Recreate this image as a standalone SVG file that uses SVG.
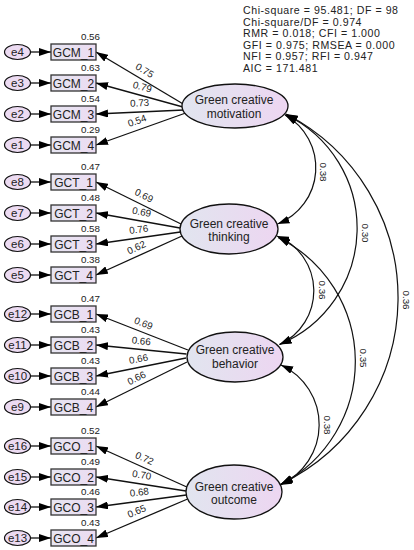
<svg xmlns="http://www.w3.org/2000/svg" width="414" height="550" viewBox="0 0 414 550">
<defs>
<linearGradient id="gl" x1="0" y1="0" x2="1" y2="0">
<stop offset="0" stop-color="#e1e5ef"/>
<stop offset="1" stop-color="#edd6f1"/>
</linearGradient>
<linearGradient id="gb" x1="0" y1="0" x2="1" y2="0">
<stop offset="0" stop-color="#e6e5f1"/>
<stop offset="1" stop-color="#ecdcf2"/>
</linearGradient>
<marker id="ar" viewBox="0 0 12 8" refX="12" refY="4" markerWidth="12" markerHeight="8" markerUnits="userSpaceOnUse" orient="auto-start-reverse">
<path d="M0,0 L12,4 L0,8 z" fill="#000"/>
</marker>
</defs>
<style>
text{font-family:"Liberation Sans",Arial,sans-serif;fill:#222}
.box{fill:url(#gb);stroke:#333;stroke-width:1.3}
.lat{fill:url(#gl);stroke:#111;stroke-width:1.3}
.err{fill:#ecdbf2;stroke:#111;stroke-width:1.2}
.bt{font-size:12px;text-anchor:middle}
.lt{font-size:12px;text-anchor:middle}
.et{font-size:11.5px;text-anchor:middle}
.num{font-size:9.8px;text-anchor:middle}
.fit{font-size:10.6px;letter-spacing:0.55px}
.ln{stroke:#111;stroke-width:1.3;fill:none;marker-end:url(#ar)}
.cv{stroke:#111;stroke-width:1.2;fill:none;marker-start:url(#ar);marker-end:url(#ar)}
</style>

<g id="fit">
<text class="fit" x="243" y="14">Chi-square = 95.481; DF = 98</text>
<text class="fit" x="243" y="25.6">Chi-square/DF = 0.974</text>
<text class="fit" x="243" y="37.2">RMR = 0.018; CFI = 1.000</text>
<text class="fit" x="243" y="48.8">GFI = 0.975; RMSEA = 0.000</text>
<text class="fit" x="243" y="60.4">NFI = 0.957; RFI = 0.947</text>
<text class="fit" x="243" y="72">AIC = 171.481</text>
</g>

<g id="connectors">
<line class="ln" x1="30" y1="52" x2="51" y2="52"/>
<line class="ln" x1="30" y1="83" x2="51" y2="83"/>
<line class="ln" x1="30" y1="114" x2="51" y2="114"/>
<line class="ln" x1="30" y1="145" x2="51" y2="145"/>
<line class="ln" x1="30" y1="182" x2="51" y2="182"/>
<line class="ln" x1="30" y1="213" x2="51" y2="213"/>
<line class="ln" x1="30" y1="244" x2="51" y2="244"/>
<line class="ln" x1="30" y1="275" x2="51" y2="275"/>
<line class="ln" x1="30" y1="314" x2="51" y2="314"/>
<line class="ln" x1="30" y1="345" x2="51" y2="345"/>
<line class="ln" x1="30" y1="376" x2="51" y2="376"/>
<line class="ln" x1="30" y1="407" x2="51" y2="407"/>
<line class="ln" x1="30" y1="446" x2="51" y2="446"/>
<line class="ln" x1="30" y1="477" x2="51" y2="477"/>
<line class="ln" x1="30" y1="507" x2="51" y2="507"/>
<line class="ln" x1="30" y1="538" x2="51" y2="538"/>
<line class="ln" x1="183.2" y1="104" x2="96" y2="52"/>
<line class="ln" x1="183" y1="107" x2="96" y2="83"/>
<line class="ln" x1="183.9" y1="110" x2="96" y2="114"/>
<line class="ln" x1="185.7" y1="113" x2="96" y2="145"/>
<line class="ln" x1="181" y1="224" x2="96" y2="182"/>
<line class="ln" x1="180" y1="228" x2="96" y2="213"/>
<line class="ln" x1="180.4" y1="232" x2="96" y2="244"/>
<line class="ln" x1="182" y1="236" x2="96" y2="275"/>
<line class="ln" x1="187.9" y1="350" x2="96" y2="314"/>
<line class="ln" x1="186.4" y1="354" x2="96" y2="345"/>
<line class="ln" x1="186" y1="358" x2="96" y2="376"/>
<line class="ln" x1="187" y1="362" x2="96" y2="407"/>
<line class="ln" x1="186.8" y1="487" x2="96" y2="446"/>
<line class="ln" x1="186" y1="491" x2="96" y2="477"/>
<line class="ln" x1="186.3" y1="495" x2="96" y2="507"/>
<line class="ln" x1="187.6" y1="499" x2="96" y2="538"/>
<text class="num" transform="translate(144.6,70.5) rotate(30.8)" y="3.3">0.75</text>
<text class="num" transform="translate(142.3,86.9) rotate(14.8)" y="3.3">0.79</text>
<text class="num" transform="translate(139.6,103) rotate(-2.6)" y="3.3">0.73</text>
<text class="num" transform="translate(137,120.8) rotate(-19.6)" y="3.3">0.54</text>
<text class="num" transform="translate(144,195.6) rotate(26.3)" y="3.3">0.69</text>
<text class="num" transform="translate(141.6,212) rotate(10.1)" y="3.3">0.69</text>
<text class="num" transform="translate(138.7,229.5) rotate(-8.1)" y="3.3">0.76</text>
<text class="num" transform="translate(136.3,247.5) rotate(-24.4)" y="3.3">0.62</text>
<text class="num" transform="translate(143.5,323.5) rotate(21.4)" y="3.3">0.69</text>
<text class="num" transform="translate(141.2,341) rotate(5.7)" y="3.3">0.66</text>
<text class="num" transform="translate(138.5,359) rotate(-11.3)" y="3.3">0.66</text>
<text class="num" transform="translate(136.5,378) rotate(-26.3)" y="3.3">0.66</text>
<text class="num" transform="translate(144.5,458.3) rotate(24.3)" y="3.3">0.72</text>
<text class="num" transform="translate(141.8,475) rotate(8.8)" y="3.3">0.70</text>
<text class="num" transform="translate(139.3,492.3) rotate(-7.6)" y="3.3">0.68</text>
<text class="num" transform="translate(136.8,511.2) rotate(-23.1)" y="3.3">0.65</text>
<path class="cv" d="M285,115 A60.5,60.5 0 0 1 277.5,224"/>
<path class="cv" d="M285.5,114.5 A126,126 0 0 1 279.5,344.5"/>
<path class="cv" d="M286,114 A206.7,206.7 0 0 1 281,484"/>
<path class="cv" d="M277,236 A59.2,59.2 0 0 1 279.5,344.5"/>
<path class="cv" d="M278,237.5 A138.3,138.3 0 0 1 280.5,484.5"/>
<path class="cv" d="M281,365 A65.9,65.9 0 0 1 280,485"/>
<text class="num" transform="translate(323,172) rotate(90)" y="3.3">0.38</text>
<text class="num" transform="translate(365,233) rotate(90)" y="3.3">0.30</text>
<text class="num" transform="translate(406,300) rotate(90)" y="3.3">0.36</text>
<text class="num" transform="translate(322,290) rotate(90)" y="3.3">0.36</text>
<text class="num" transform="translate(363,358) rotate(90)" y="3.3">0.35</text>
<text class="num" transform="translate(327,425) rotate(90)" y="3.3">0.38</text>
</g>

<g id="GCM">
<ellipse class="lat" cx="235" cy="106" rx="53" ry="22"/>
<text class="lt" x="234" y="104">Green creative</text>
<text class="lt" x="234" y="118">motivation</text>
</g>
<g id="GCT">
<ellipse class="lat" cx="229" cy="229" rx="49" ry="25"/>
<text class="lt" x="229" y="227.5">Green creative</text>
<text class="lt" x="229" y="241">thinking</text>
</g>
<g id="GCB">
<ellipse class="lat" cx="235" cy="357" rx="48" ry="25"/>
<text class="lt" x="235" y="354">Green creative</text>
<text class="lt" x="235" y="367.5">behavior</text>
</g>
<g id="GCO">
<ellipse class="lat" cx="234" cy="492" rx="48" ry="27"/>
<text class="lt" x="234" y="490.5">Green creative</text>
<text class="lt" x="234" y="504">outcome</text>
</g>

<g id="GCM_1"><rect class="box" x="51" y="44" width="45" height="16"/><text class="bt" x="73.5" y="56.5">GCM_1</text><text class="num" x="90.5" y="40">0.56</text></g>
<g id="GCM_2"><rect class="box" x="51" y="75" width="45" height="16"/><text class="bt" x="73.5" y="87.5">GCM_2</text><text class="num" x="90.5" y="71">0.63</text></g>
<g id="GCM_3"><rect class="box" x="51" y="106" width="45" height="16"/><text class="bt" x="73.5" y="118.5">GCM_3</text><text class="num" x="90.5" y="102">0.54</text></g>
<g id="GCM_4"><rect class="box" x="51" y="137" width="45" height="16"/><text class="bt" x="73.5" y="149.5">GCM_4</text><text class="num" x="90.5" y="133">0.29</text></g>

<g id="GCT_1"><rect class="box" x="51" y="174" width="45" height="16"/><text class="bt" x="73.5" y="186.5">GCT_1</text><text class="num" x="90.5" y="170">0.47</text></g>
<g id="GCT_2"><rect class="box" x="51" y="205" width="45" height="16"/><text class="bt" x="73.5" y="217.5">GCT_2</text><text class="num" x="90.5" y="201">0.48</text></g>
<g id="GCT_3"><rect class="box" x="51" y="236" width="45" height="16"/><text class="bt" x="73.5" y="248.5">GCT_3</text><text class="num" x="90.5" y="232">0.58</text></g>
<g id="GCT_4"><rect class="box" x="51" y="267" width="45" height="16"/><text class="bt" x="73.5" y="279.5">GCT_4</text><text class="num" x="90.5" y="263">0.38</text></g>

<g id="GCB_1"><rect class="box" x="51" y="306" width="45" height="16"/><text class="bt" x="73.5" y="318.5">GCB_1</text><text class="num" x="90.5" y="302">0.47</text></g>
<g id="GCB_2"><rect class="box" x="51" y="337" width="45" height="16"/><text class="bt" x="73.5" y="349.5">GCB_2</text><text class="num" x="90.5" y="333">0.43</text></g>
<g id="GCB_3"><rect class="box" x="51" y="368" width="45" height="16"/><text class="bt" x="73.5" y="380.5">GCB_3</text><text class="num" x="90.5" y="364">0.43</text></g>
<g id="GCB_4"><rect class="box" x="51" y="399" width="45" height="16"/><text class="bt" x="73.5" y="411.5">GCB_4</text><text class="num" x="90.5" y="395">0.44</text></g>

<g id="GCO_1"><rect class="box" x="51" y="438" width="45" height="16"/><text class="bt" x="73.5" y="450.5">GCO_1</text><text class="num" x="90.5" y="434">0.52</text></g>
<g id="GCO_2"><rect class="box" x="51" y="469" width="45" height="16"/><text class="bt" x="73.5" y="481.5">GCO_2</text><text class="num" x="90.5" y="465">0.49</text></g>
<g id="GCO_3"><rect class="box" x="51" y="499" width="45" height="16"/><text class="bt" x="73.5" y="511.5">GCO_3</text><text class="num" x="90.5" y="495">0.46</text></g>
<g id="GCO_4"><rect class="box" x="51" y="530" width="45" height="16"/><text class="bt" x="73.5" y="542.5">GCO_4</text><text class="num" x="90.5" y="526">0.43</text></g>

<g id="e4"><ellipse class="err" cx="17.5" cy="52" rx="13" ry="7.5"/><text class="et" x="17.5" y="56.2">e4</text></g>
<g id="e3"><ellipse class="err" cx="17.5" cy="83" rx="13" ry="7.5"/><text class="et" x="17.5" y="87.2">e3</text></g>
<g id="e2"><ellipse class="err" cx="17.5" cy="114" rx="13" ry="7.5"/><text class="et" x="17.5" y="118.2">e2</text></g>
<g id="e1"><ellipse class="err" cx="17.5" cy="145" rx="13" ry="7.5"/><text class="et" x="17.5" y="149.2">e1</text></g>
<g id="e8"><ellipse class="err" cx="17.5" cy="182" rx="13" ry="7.5"/><text class="et" x="17.5" y="186.2">e8</text></g>
<g id="e7"><ellipse class="err" cx="17.5" cy="213" rx="13" ry="7.5"/><text class="et" x="17.5" y="217.2">e7</text></g>
<g id="e6"><ellipse class="err" cx="17.5" cy="244" rx="13" ry="7.5"/><text class="et" x="17.5" y="248.2">e6</text></g>
<g id="e5"><ellipse class="err" cx="17.5" cy="275" rx="13" ry="7.5"/><text class="et" x="17.5" y="279.2">e5</text></g>
<g id="e12"><ellipse class="err" cx="17.5" cy="314" rx="13" ry="7.5"/><text class="et" x="17.5" y="318.2">e12</text></g>
<g id="e11"><ellipse class="err" cx="17.5" cy="345" rx="13" ry="7.5"/><text class="et" x="17.5" y="349.2">e11</text></g>
<g id="e10"><ellipse class="err" cx="17.5" cy="376" rx="13" ry="7.5"/><text class="et" x="17.5" y="380.2">e10</text></g>
<g id="e9"><ellipse class="err" cx="17.5" cy="407" rx="13" ry="7.5"/><text class="et" x="17.5" y="411.2">e9</text></g>
<g id="e16"><ellipse class="err" cx="17.5" cy="446" rx="13" ry="7.5"/><text class="et" x="17.5" y="450.2">e16</text></g>
<g id="e15"><ellipse class="err" cx="17.5" cy="477" rx="13" ry="7.5"/><text class="et" x="17.5" y="481.2">e15</text></g>
<g id="e14"><ellipse class="err" cx="17.5" cy="507" rx="13" ry="7.5"/><text class="et" x="17.5" y="511.2">e14</text></g>
<g id="e13"><ellipse class="err" cx="17.5" cy="538" rx="13" ry="7.5"/><text class="et" x="17.5" y="542.2">e13</text></g>
</svg>
